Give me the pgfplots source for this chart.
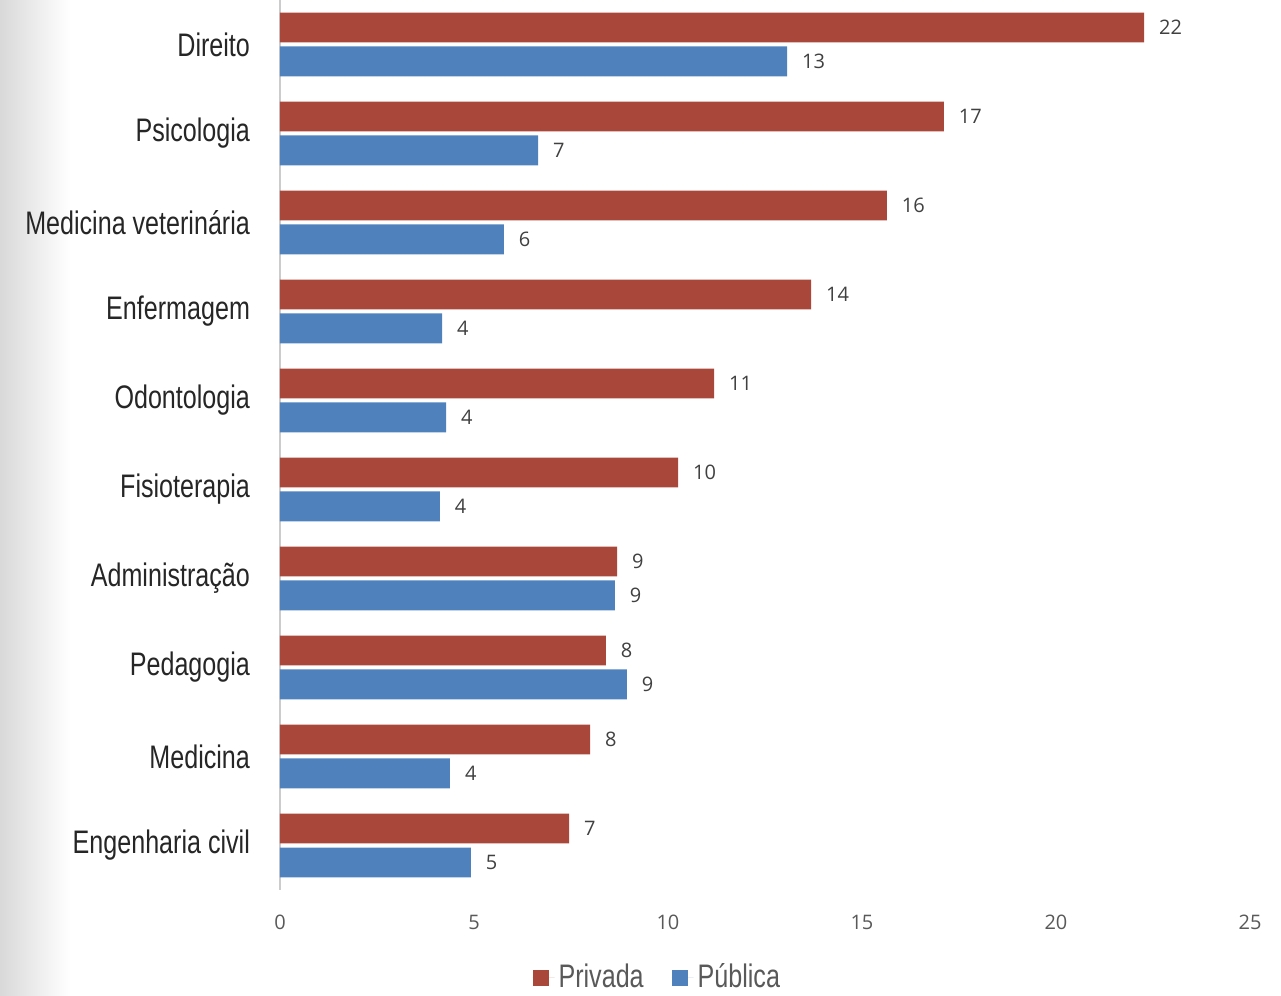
\documentclass[border=0pt]{standalone}
\usepackage{pgfplots}
\pgfplotsset{compat=1.18}
\usepackage{pgfplotstable}
\usepackage{fontspec}
\setmainfont{Open Sans}
\newfontfamily\narrow[FakeStretch=0.77]{Liberation Sans}
\definecolor{priv}{HTML}{A9473A}
\definecolor{pub}{HTML}{4F81BD}
\definecolor{txt}{HTML}{262626}
\definecolor{gtxt}{HTML}{595959}
\definecolor{vtxt}{HTML}{404040}
\pgfplotstableread{
y x lab
9 22.27 22
8 17.11 17
7 15.64 16
6 13.69 14
5 11.19 11
4 10.26 10
3 8.69 9
2 8.40 8
1 7.99 8
0 7.45 7
}\privtab
\pgfplotstableread{
y x lab
9 13.07 13
8 6.65 7
7 5.77 6
6 4.18 4
5 4.28 4
4 4.12 4
3 8.63 9
2 8.94 9
1 4.38 4
0 4.92 5
}\pubtab
\begin{document}
\begin{tikzpicture}
\path[use as bounding box] (-140pt,-53pt) rectangle (500.5pt,445pt);
\shade[left color=black!15, right color=white] (-140pt,-53pt) rectangle (-105pt,445pt);
\begin{axis}[
  scale only axis,
  width=485pt, height=445pt,
  xmin=0, xmax=25,
  ymin=-0.5, ymax=9.5,
  xbar,
  bar width=0.335,
  xtick={0,5,10,15,20,25},
  ytick={0,...,9},
  yticklabels={Engenharia civil,Medicina,Pedagogia,Administração,Fisioterapia,Odontologia,Enfermagem,Medicina veterinária,Psicologia,Direito},
  yticklabel style={font=\narrow\fontsize{16.3}{19}\selectfont, text=txt, xshift=-11.5pt},
  xticklabel style={font=\fontsize{10}{12}\selectfont, text=gtxt, yshift=-9pt},
  /pgf/number format/assume math mode=true,
  major tick length=0pt,
  axis lines*=left,
  x axis line style={draw=none},
  y axis line style={draw=black!20, line width=0.8pt},
  point meta=explicit symbolic,
  nodes near coords,
  nodes near coords style={font=\fontsize{10}{12}\selectfont, text=vtxt, anchor=west, xshift=4pt},
  legend style={at={(0.39,-0.078)}, anchor=north, draw=none, fill=none, legend columns=2,
    font=\narrow\fontsize{16.3}{19}\selectfont, text=gtxt, inner sep=0pt,
    /tikz/every even column/.append style={column sep=12pt}},
  legend image code/.code={\fill[#1] (0pt,-4.5pt) rectangle (8pt,3.5pt); \path (0pt,0pt) -- (11pt,0pt);},
]
\addplot[fill=priv, draw=none, bar shift=0.19] table[x=x, y=y, meta=lab] {\privtab};
\addplot[fill=pub, draw=none, bar shift=-0.19] table[x=x, y=y, meta=lab] {\pubtab};
\legend{Privada,Pública}
\end{axis}
\end{tikzpicture}
\end{document}
